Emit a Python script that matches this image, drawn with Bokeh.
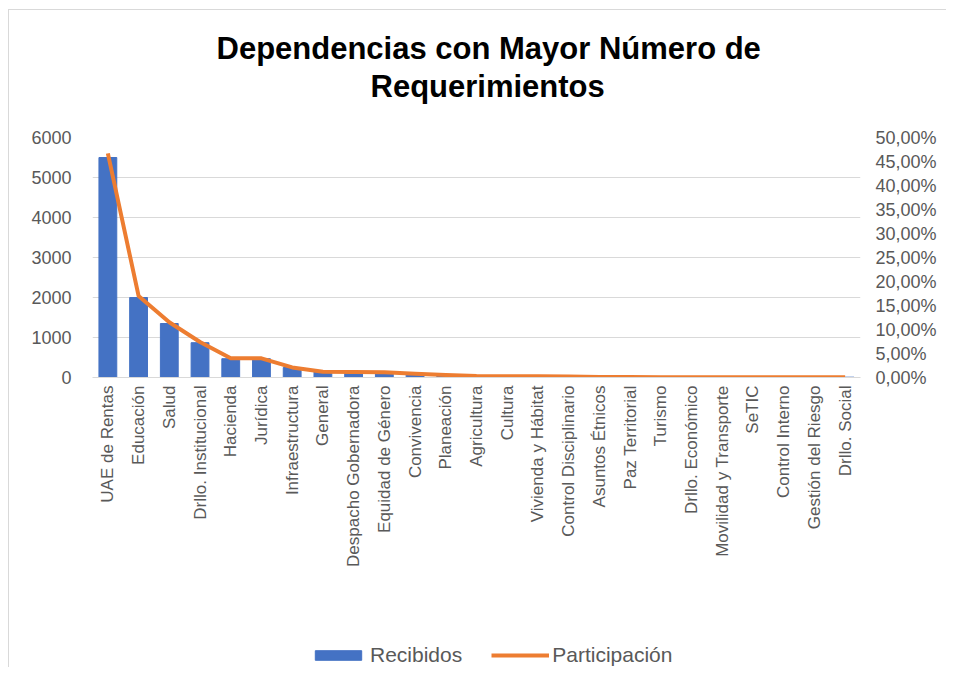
import math
from bokeh.plotting import figure
from bokeh.layouts import column
from bokeh.models import (FactorRange, Range1d, LinearAxis, FixedTicker,
                          CustomJSTickFormatter, Legend, LegendItem, Title)
from bokeh.embed import file_html
from bokeh.resources import INLINE

categorias = ["UAE de Rentas", "Educación", "Salud", "Drllo. Institucional",
              "Hacienda", "Jurídica", "Infraestructura", "General",
              "Despacho Gobernadora", "Equidad de Género", "Convivencia",
              "Planeación", "Agricultura", "Cultura", "Vivienda y Hábitat",
              "Control Disciplinario", "Asuntos Étnicos", "Paz Territorial",
              "Turismo", "Drllo. Económico", "Movilidad y Transporte", "SeTIC",
              "Control Interno", "Gestión del Riesgo", "Drllo. Social"]
recibidos = [5500, 2000, 1350, 870, 470, 470, 250, 140, 135, 125, 90, 55,
             35, 30, 30, 25, 15, 10, 8, 6, 5, 5, 4, 4, 8]
participacion = [0.467, 0.170, 0.115, 0.074, 0.040, 0.040, 0.021, 0.012,
                 0.0115, 0.011, 0.008, 0.005, 0.003, 0.0025, 0.0025, 0.002,
                 0.0013, 0.0009, 0.0007, 0.0005, 0.0004, 0.0004, 0.0003,
                 0.0003, 0.0005]
ticks_izq = [0, 1000, 2000, 3000, 4000, 5000, 6000]
ticks_der = [0.0, 0.05, 0.10, 0.15, 0.20, 0.25, 0.30, 0.35, 0.40, 0.45, 0.50]
titulo_1 = "Dependencias con Mayor Número de"
titulo_2 = "Requerimientos"
series = ["Recibidos", "Participación"]

FONT = "Liberation Sans"
GRAY = "#595959"
BLUE = "#4472C4"
ORANGE = "#ED7D31"

p = figure(x_range=FactorRange(*categorias, range_padding=0),
           y_range=Range1d(0, 6000),
           frame_width=768, frame_height=240,
           output_backend="svg", toolbar_location=None,
           min_border_left=83, min_border_right=86, min_border_top=127,
           min_border_bottom=250)
p.outline_line_color = None
p.extra_y_ranges = {"pct": Range1d(0, 0.5)}

p.vbar(x=categorias, top=recibidos, width=0.58, color=BLUE)
p.line(x=categorias, y=participacion, y_range_name="pct",
       line_color=ORANGE, line_width=4, line_join="round")

p.xgrid.grid_line_color = None
p.ygrid.grid_line_color = "#D9D9D9"
p.ygrid.ticker = FixedTicker(ticks=ticks_izq)

ax = p.xaxis[0]
ax.major_label_orientation = math.pi / 2
ax.axis_line_color = "#D9D9D9"
ax.major_tick_line_color = None
ax.minor_tick_line_color = None
ax.major_tick_out = 0
ax.major_tick_in = 0
ax.major_label_standoff = 8
ax.major_label_text_font = FONT
ax.major_label_text_font_size = "17px"
ax.major_label_text_color = GRAY

ay = p.yaxis[0]
ay.ticker = FixedTicker(ticks=ticks_izq)
ay.axis_line_color = None
ay.major_tick_line_color = None
ay.minor_tick_line_color = None
ay.major_label_standoff = 15
ay.major_label_text_font = FONT
ay.major_label_text_font_size = "18px"
ay.major_label_text_color = GRAY

ar = LinearAxis(y_range_name="pct", ticker=FixedTicker(ticks=ticks_der),
                formatter=CustomJSTickFormatter(code="return (tick*100).toFixed(2).replace('.', ',') + '%';"))
ar.axis_line_color = None
ar.major_tick_line_color = None
ar.minor_tick_line_color = None
ar.major_tick_out = 0
ar.major_label_standoff = 15
ar.major_label_text_font = FONT
ar.major_label_text_font_size = "18px"
ar.major_label_text_color = GRAY
p.add_layout(ar, "right")

t_sp = Title(text=" ", text_font=FONT, text_font_size="20px", standoff=9)
t2 = Title(text=titulo_2, align="left", offset=278,
           text_font=FONT, text_font_size="31px", text_font_style="bold",
           text_color="#000000", standoff=1)
t1 = Title(text=titulo_1, align="left", offset=124,
           text_font=FONT, text_font_size="31px", text_font_style="bold",
           text_color="#000000", standoff=1)
p.add_layout(t_sp, "above")
p.add_layout(t2, "above")
p.add_layout(t1, "above")

# legend strip below the chart (proxy renderers lie outside the visible range)
pl = figure(x_range=Range1d(0, 1), y_range=Range1d(1, 2),
            width=83 + 768 + 86, height=40,
            x_axis_location=None, y_axis_location=None,
            output_backend="svg", toolbar_location=None,
            min_border_left=0, min_border_right=0, min_border_top=0,
            min_border_bottom=0)
pl.grid.visible = False
pl.outline_line_color = None
r_bar = pl.vbar(x=[-1], top=[0], bottom=[0], width=0.1, color=BLUE)
r_line = pl.line(x=[-1, -1], y=[0, 0], line_color=ORANGE, line_width=4)
legend = Legend(items=[LegendItem(label=series[0], renderers=[r_bar]),
                       LegendItem(label=series[1], renderers=[r_line])],
                orientation="horizontal", location=(217, 0),
                glyph_width=58, glyph_height=12, label_standoff=3, spacing=29,
                padding=0, margin=0, border_line_color=None,
                background_fill_alpha=0, label_text_font=FONT,
                label_text_font_size="21px", label_text_color=GRAY)
pl.add_layout(legend, "center")

layout = column(p, pl, spacing=0)
layout.styles = {"border-top": "1px solid #D9D9D9", "border-left": "1px solid #D9D9D9",
                 "margin-left": "8px", "margin-top": "9px"}

open("out.html", "w").write(file_html(layout, INLINE))
